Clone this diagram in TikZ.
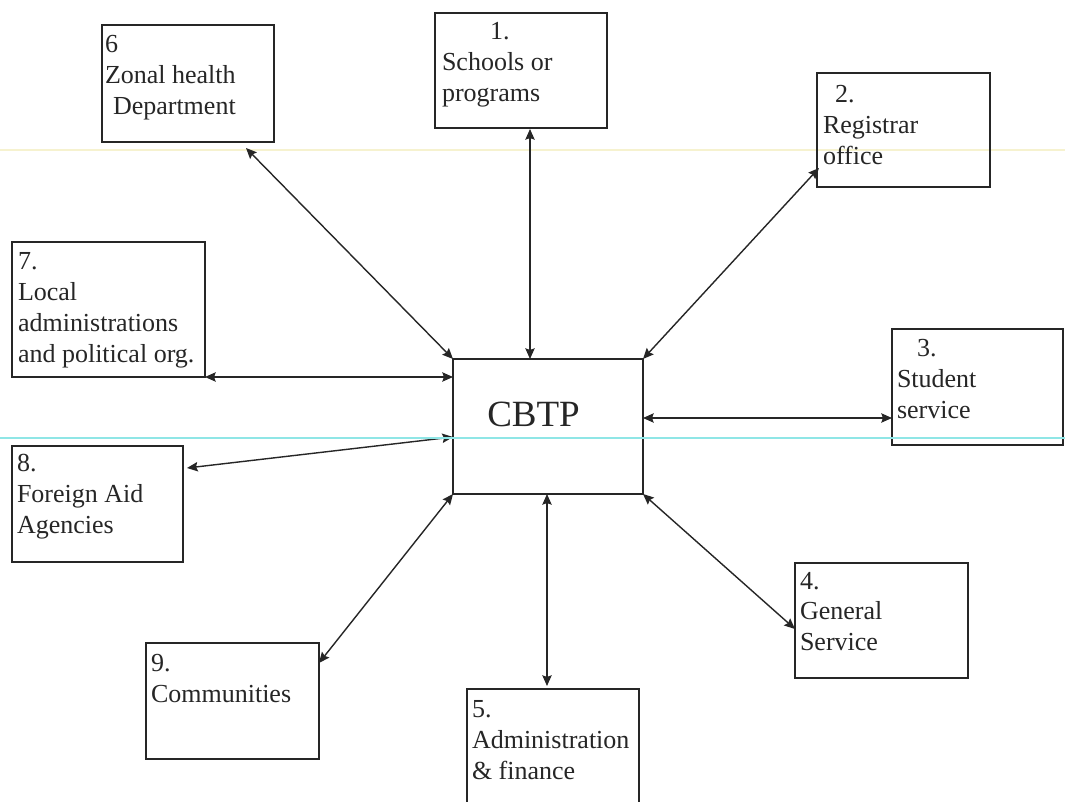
\documentclass[tikz,border=0pt]{standalone}
\usepackage{fontspec}
\setmainfont{Liberation Serif}
\usetikzlibrary{arrows.meta,calc}
% stacked lines, baseline at the first line
\newcommand{\lns}[1]{\begin{tabular}[t]{@{}l@{}}#1\end{tabular}}
\definecolor{ink}{HTML}{262626}
\definecolor{scanline}{HTML}{8FE6E6}
\definecolor{faintline}{HTML}{F6F2CF}
\begin{document}
\begin{tikzpicture}[x=0.75pt,y=-0.75pt,
  unit/.style={draw=ink, line width=1.9pt, rectangle, inner sep=0pt, outer sep=0pt, anchor=north west},
  hub/.style={draw=ink, line width=1.2pt, rectangle, inner sep=0pt, outer sep=0pt, anchor=north west,
              minimum width=142.5pt, minimum height=101.25pt},
  lbl/.style={anchor=base west, inner sep=0pt, outer sep=0pt, text=ink,
              font=\fontsize{19.5pt}{23.25pt}\selectfont},
  link/.style={draw=ink, line width=1.05pt,
              {Stealth[length=8pt,width=7pt,inset=1.2pt]}-{Stealth[length=8pt,width=7pt,inset=1.2pt]}}]
\useasboundingbox (0,0) rectangle (1065,802);
\fill[white] (0,0) rectangle (1065,802);

% faint horizontal line
\draw[faintline, line width=1pt] (0,150) -- (1065,150);

% central unit
\node[hub] (c) at (453,359) {};
\node[anchor=base west, inner sep=0pt, text=ink, font=\fontsize{27.75pt}{32pt}\selectfont] (ct) at (487,427) {CBTP};

% surrounding units
\node[unit, minimum width=129pt,    minimum height=87.75pt]  (b6) at (102,25)  {};
\node[unit, minimum width=129pt,    minimum height=86.25pt]  (b1) at (435,13)  {};
\node[unit, minimum width=129.75pt, minimum height=85.5pt]   (b2) at (817,73)  {};
\node[unit, minimum width=144.75pt, minimum height=101.25pt] (b7) at (12,242)  {};
\node[unit, minimum width=128.25pt, minimum height=87pt]     (b3) at (892,329) {};
\node[unit, minimum width=128.25pt, minimum height=87pt]     (b8) at (12,446)  {};
\node[unit, minimum width=129.75pt, minimum height=86.25pt]  (b4) at (795,563) {};
\node[unit, minimum width=129.75pt, minimum height=87pt]     (b9) at (146,643) {};
\node[unit, minimum width=129pt,    minimum height=96pt]     (b5) at (467,689) {};

% labels
\node[lbl] (t6) at (105,53)  {\lns{6\\Zonal health\\\hspace*{6pt}Department}};
\node[lbl] (t1) at (442,40)  {\lns{\hspace*{36pt}1.\\Schools or\\programs}};
\node[lbl] (t2) at (823,103) {\lns{\hspace*{9pt}2.\\Registrar\\office}};
\node[lbl] (t7) at (18,270)  {\lns{7.\\Local\\administrations\\and political org.}};
\node[lbl] (t3) at (897,357) {\lns{\hspace*{15pt}3.\\Student\\service}};
\node[lbl] (t8) at (17,472)  {\lns{8.\\Foreign Aid\\Agencies}};
\node[lbl] (t4) at (800,589) {\lns{4.\\General\\Service}};
\node[lbl] (t9) at (151,671) {\lns{9.\\Communities}};
\node[lbl] (t5) at (472,717) {\lns{5.\\Administration\\\& finance}};

% two-way links
\draw[link] ($(b6.south east)+(-28,6)$) -- (c.north west);
\draw[link] ($(b1.south west)+(95,1)$) -- ($(c.north west)+(77,0)$);
\draw[link] ($(b2.south west)+(2,-19)$) -- (c.north east);
\draw[link] (b7.south east) -- ($(c.north west)+(0,18)$);
\draw[link] ($(c.north east)+(0,59)$) -- ($(b3.north west)+(0,89)$);
\draw[link] ($(b8.north east)+(4,22)$) -- ($(c.north west)+(0,78)$);
\draw[link] ($(b9.north east)+(0,20)$) -- (c.south west);
\draw[link] ($(c.south west)+(94,0)$) -- ($(b5.north west)+(80,-3)$);
\draw[link] (c.south east) -- ($(b4.north west)+(0,66)$);

% cyan scan line across the sheet
\draw[scanline, line width=1.6pt] (0,438) -- (1065,438);
\end{tikzpicture}
\end{document}
